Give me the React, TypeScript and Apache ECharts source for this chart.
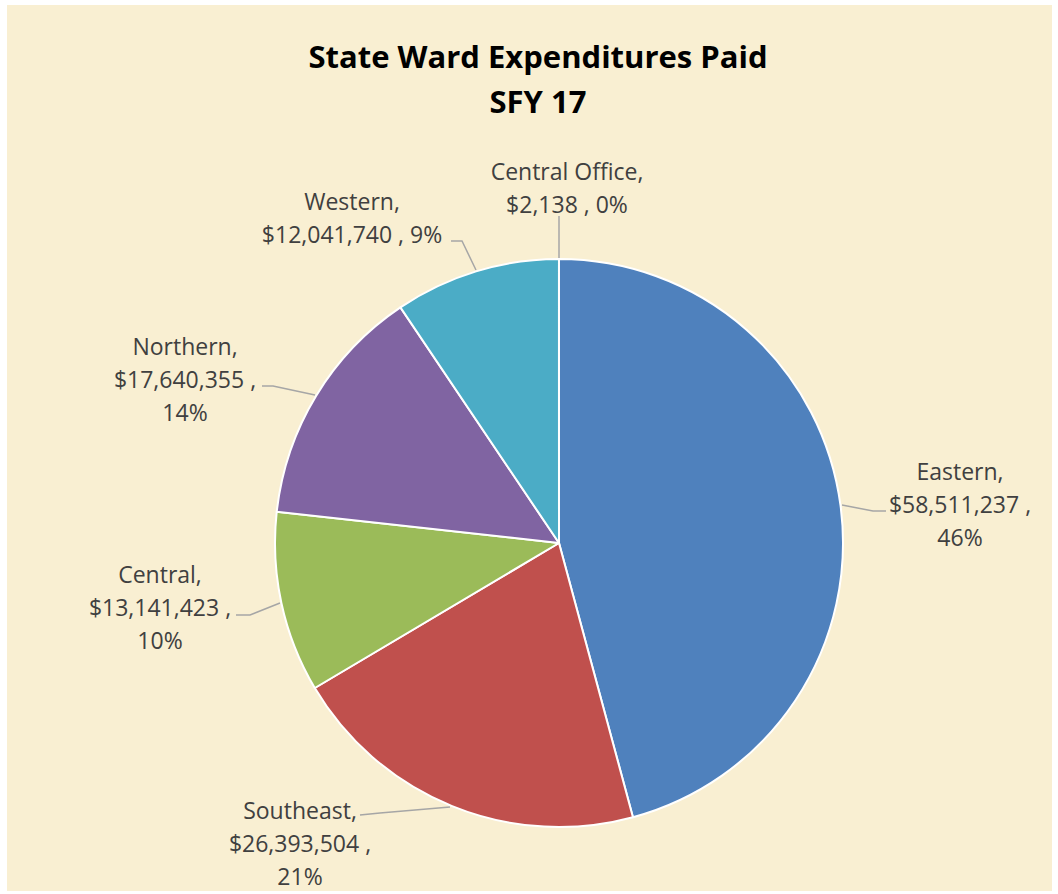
import React, { useEffect, useRef } from "react";
import * as echarts from "echarts";

const categories = ["Eastern", "Southeast", "Central", "Northern", "Western", "Central Office"];
const values = [58511237, 26393504, 13141423, 17640355, 12041740, 2138];
const sliceColors = ["#4f81bd", "#c0504d", "#9bbb59", "#8064a2", "#4bacc6", "#f79646"];
const percentOnValueLine = [false, false, false, false, true, true];
const titleLines = ["State Ward Expenditures Paid", "SFY 17"];

// label block centres and leader-line points (page pixels)
const labelPlacement: { x: number; y: number; line: number[][] }[] = [
  { x: 960, y: 504, line: [[842, 505], [873, 511], [886, 511]] },
  { x: 300, y: 843, line: [[450, 807], [380, 813], [360, 815]] },
  { x: 160, y: 607, line: [[280, 603], [250, 615], [236, 615]] },
  { x: 185, y: 379, line: [[315, 395], [273, 386], [262, 386]] },
  { x: 352, y: 217, line: [[476, 270], [462, 241], [451, 241]] },
  { x: 567, y: 187, line: [[559, 259], [559, 232], [559, 216]] },
];

const total = values.reduce((a, b) => a + b, 0);

export default function App() {
  const ref = useRef<HTMLDivElement>(null);
  useEffect(() => {
    if (!ref.current) return;
    const chart = echarts.init(ref.current, undefined, { renderer: "svg" });
    chart.setOption({
      animation: false,
      backgroundColor: "#ffffff",
      graphic: [
        {
          type: "rect",
          z: -10,
          silent: true,
          shape: { x: 7, y: 5, width: 1045, height: 886 },
          style: { fill: "#f9efd2" },
        },
      ],
      title: {
        text: titleLines.join("\n"),
        left: 533,
        top: 28,
        textAlign: "center",
        textStyle: {
          fontFamily: "Open Sans",
          fontWeight: "bold",
          fontSize: 31,
          lineHeight: 45,
          color: "#000000",
        },
      },
      series: [
        {
          type: "pie",
          center: [559, 543],
          radius: 284,
          startAngle: 90,
          clockwise: true,
          avoidLabelOverlap: false,
          itemStyle: { borderColor: "#ffffff", borderWidth: 2 },
          data: categories.map((name, i) => ({
            name,
            value: values[i],
            itemStyle: { color: sliceColors[i] },
          })),
          label: {
            show: true,
            position: "outside",
            fontFamily: "Open Sans",
            fontSize: 23,
            lineHeight: 33,
            color: "#404040",
            align: "center",
            formatter: (p: any) => {
              const pct = Math.round((p.value / total) * 100);
              const money = "$" + p.value.toLocaleString("en-US");
              return percentOnValueLine[p.dataIndex]
                ? `${p.name},\n${money} , ${pct}%`
                : `${p.name},\n${money} ,\n${pct}%`;
            },
          },
          labelLine: {
            show: true,
            lineStyle: { color: "#a6a6a6", width: 1.5 },
          },
          labelLayout: (params: any) => {
            const lp = labelPlacement[params.dataIndex];
            return {
              x: lp.x,
              y: lp.y,
              align: "center",
              verticalAlign: "middle",
              labelLinePoints: lp.line,
            };
          },
          emphasis: { disabled: true },
        },
      ],
    });
    return () => chart.dispose();
  }, []);
  return (
    <div
      ref={ref}
      style={{ position: "absolute", left: 0, top: 0, width: 1058, height: 894 }}
    />
  );
}
